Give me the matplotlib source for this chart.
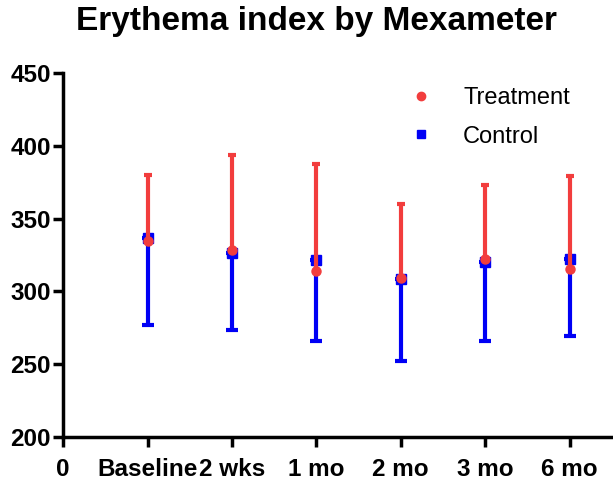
import matplotlib.pyplot as plt
from matplotlib.lines import Line2D

plt.rcParams['font.family'] = ['Liberation Sans', 'DejaVu Sans']

labels = ["0", "Baseline", "2 wks", "1 mo", "2 mo", "3 mo", "6 mo"]
x = [1, 2, 3, 4, 5, 6]

treat_mean = [334.6, 328.4, 314.0, 309.4, 322.3, 315.2]
treat_upper = [380.0, 394.0, 387.5, 359.8, 372.9, 379.5]

ctrl_mean = [336.7, 326.6, 321.6, 308.3, 320.4, 322.5]
ctrl_lower = [277.0, 273.5, 266.0, 252.0, 265.7, 269.4]

red = "#F23D3D"
blue = "#0000F5"

fig = plt.figure(figsize=(6.13, 4.87), dpi=100)
ax = fig.add_axes([0.103, 0.103, 0.895, 0.747])

# control: lower error only
ax.errorbar(x, ctrl_mean,
            yerr=[[m - l for m, l in zip(ctrl_mean, ctrl_lower)], [0] * 6],
            fmt="s", color=blue, ms=6.5, elinewidth=3, capsize=4, capthick=3,
            zorder=2)
# treatment: upper error only
ax.errorbar(x, treat_mean,
            yerr=[[0] * 6, [u - m for m, u in zip(treat_mean, treat_upper)]],
            fmt="o", color=red, ms=6.5, elinewidth=3, capsize=3, capthick=3,
            zorder=3)

ax.set_xlim(0, 6.5)
ax.set_ylim(200, 450)
ax.set_xticks(range(7))
ax.set_xticklabels(labels)
ax.set_yticks([200, 250, 300, 350, 400, 450])

for s in ["top", "right"]:
    ax.spines[s].set_visible(False)
for s in ["left", "bottom"]:
    ax.spines[s].set_linewidth(2.5)
ax.tick_params(width=2.5, length=7, labelsize=17.5)
for t in ax.get_xticklabels() + ax.get_yticklabels():
    t.set_fontweight("bold")
ax.tick_params(axis="x", pad=8)
ax.tick_params(axis="y", pad=2)

fig.text(0.517, 0.955, "Erythema index by Mexameter", fontsize=24,
         fontweight="bold", ha="center", va="center")

handles = [
    Line2D([], [], marker="o", color=red, ls="none", ms=6),
    Line2D([], [], marker="s", color=blue, ls="none", ms=6),
]
ax.legend(handles, ["Treatment", "Control"], frameon=False, fontsize=17,
          loc="upper left", bbox_to_anchor=(0.57, 1.02), handletextpad=0.8,
          labelspacing=0.7)

fig.savefig("out.png", dpi=100)
